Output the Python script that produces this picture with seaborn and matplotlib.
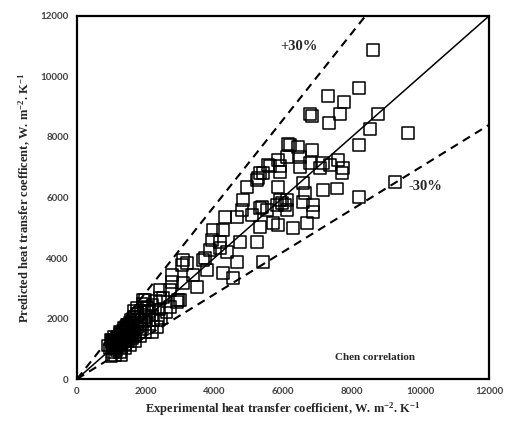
import numpy as np
import pandas as pd
import matplotlib
matplotlib.use("Agg")
import matplotlib.pyplot as plt
import seaborn as sns

# Experimental vs. predicted heat transfer coefficients (W m^-2 K^-1)
exp_h = [
    8620, 8210, 7310, 7780, 7660, 6790, 6850, 7340, 8770, 8540, 9640, 8210,
    6150, 6200, 6440, 6850, 6120, 6500, 7600, 6790, 5620, 5910, 5910, 6500,
    7170, 7370, 7750, 7720, 7080, 5330, 5240, 4950, 5850, 6580, 6640, 7170,
    7570, 9260, 8210, 4830, 5910, 6120, 4810, 6060, 6120, 6580, 6870, 6870,
    5330, 5530, 5100, 4660, 4310, 5710, 5850, 6290, 6700, 5330, 3960, 4250,
    3930, 4750, 5240, 4170, 3870, 4370, 4660, 5420, 3090, 3200, 3670, 3790,
    3380, 4250, 4540, 3500, 2420, 2710, 3000, 2710, 1920, 2040, 2210, 2330,
    2190, 2770, 3090, 2910, 2360, 3060, 3730, 2770, 2940, 1980, 4170, 2040,
    2420, 5270, 5420, 5560, 5850, 5390, 5830, 5970,
    1000, 1050, 950, 1100, 1000, 1150, 1200, 1100, 1250, 1300, 1200, 1350,
    1400, 1300, 1450, 1500, 1400, 1550, 1600, 1500, 1650, 1700, 1600, 1750,
    1800, 1700, 1850, 1900, 1800, 1950, 1050, 1150, 1250, 1350, 1450, 1550,
    1650, 1750, 1850, 1950, 900, 1000, 1100, 1250, 1400, 1550, 1700, 1850,
    2000, 2100, 2000, 2100, 2200, 2300, 2500, 2400, 2600, 1900, 1750, 1650,
    2200, 2450, 1300, 1150, 1350, 1600, 1450,
    1050, 1120, 1180, 1230, 1280, 1330, 1380, 1430, 1480, 1530, 1580, 1630,
    1680, 1080, 1160, 1240, 1320, 1420, 1520, 1620, 980, 1060, 1260, 1460,
]
pred_h = [
    10880, 9620, 9360, 9160, 8760, 8760, 8700, 8460, 8760, 8260, 8130, 7740,
    7770, 7740, 7670, 7570, 7340, 7340, 7240, 7140, 7040, 7040, 6840, 7010,
    7140, 7080, 6980, 6810, 6980, 6810, 6580, 6350, 6350, 6480, 6150, 6250,
    6300, 6510, 6020, 5920, 5920, 5920, 5590, 5750, 5590, 5850, 5750, 5520,
    5650, 5590, 5420, 5360, 5360, 5160, 5090, 4990, 5160, 5030, 4930, 4930,
    4600, 4530, 4530, 4530, 4270, 4200, 3870, 3870, 3930, 3840, 3930, 3600,
    3440, 3500, 3340, 3040, 2940, 2940, 2610, 2380, 2610, 2380, 1950, 1720,
    1550, 3440, 3170, 2550, 1950, 3770, 4000, 3210, 2610, 2610, 4330, 2350,
    2680, 6650, 6810, 7080, 7240, 5690, 5750, 5820,
    750, 900, 1000, 1050, 1150, 950, 1100, 1250, 1200, 1050, 1350, 1300,
    1150, 1450, 1400, 1250, 1550, 1500, 1350, 1650, 1600, 1450, 1750, 1700,
    1550, 1850, 1800, 1650, 1950, 1900, 1300, 1400, 1550, 1700, 1800, 1950,
    2050, 2150, 2250, 2350, 1100, 1250, 800, 900, 1000, 1100, 1250, 1400,
    1550, 1800, 2050, 2250, 2450, 2600, 2700, 2300, 2200, 2500, 2350, 2250,
    2100, 2000, 800, 1150, 1400, 1500, 1600,
    1200, 1300, 1380, 1450, 1520, 1600, 1660, 1720, 1780, 1850, 1900, 1980,
    2050, 1000, 1080, 1150, 1250, 1330, 1420, 1520, 1300, 1400, 1100, 1250,
]

# Reference lines: parity and the +/-30 % band
line_x = [0, 12000]
upper_factor = 1 / 0.7
lower_factor = 0.7
axis_ticks = [0, 2000, 4000, 6000, 8000, 10000, 12000]

df = pd.DataFrame({"exp": exp_h, "pred": pred_h})

sns.set_style("white")
plt.rcParams["mathtext.fontset"] = "custom"
plt.rcParams["mathtext.rm"] = "Liberation Serif:bold"
plt.rcParams["mathtext.bf"] = "Liberation Serif:bold"
plt.rcParams["mathtext.default"] = "bf"

fig = plt.figure(figsize=(5.08, 4.25), dpi=100)
ax = fig.add_axes([0.1516, 0.1082, 0.8110, 0.8542])

sns.scatterplot(data=df, x="exp", y="pred", marker="s", s=68,
                facecolors="none", edgecolors="black", linewidths=1.1,
                ax=ax, zorder=3)

lx = np.array(line_x, dtype=float)
ax.plot(lx, lx, color="black", lw=1.1, zorder=2)
ax.plot(lx, lx * upper_factor, color="black", lw=1.5, ls=(0, (4, 2.8)), zorder=2)
ax.plot(lx, lx * lower_factor, color="black", lw=1.5, ls=(0, (4, 2.8)), zorder=2)

ax.set_xlim(0, 12000)
ax.set_ylim(0, 12000)
ax.set_xticks(axis_ticks)
ax.set_yticks(axis_ticks)
ax.set_xticklabels([str(t) for t in axis_ticks])
ax.set_yticklabels([str(t) for t in axis_ticks])
ax.tick_params(axis="both", direction="out", length=3, width=0.8,
               color="#888888", labelsize=7, labelcolor="#404040", pad=3)
for lbl in ax.get_xticklabels() + ax.get_yticklabels():
    lbl.set_fontfamily("Lato")
    lbl.set_fontweight("bold")

for sp in ax.spines.values():
    sp.set_color("black")
    sp.set_linewidth(1.6)

serif = "Liberation Serif"
ax.set_xlabel(r"Experimental heat transfer coefficient, W. m$^{-2}$. K$^{-1}$",
              fontfamily=serif, fontweight="bold", fontsize=9, labelpad=3)
ax.set_ylabel(r"Predicted heat transfer coefficent, W. m$^{-2}$. K$^{-1}$",
              fontfamily=serif, fontweight="bold", fontsize=9, labelpad=5)

ax.text(6450, 11000, "+30%", fontfamily=serif, fontweight="bold",
        fontsize=10.5, ha="center", va="center")
ax.text(10150, 6350, "-30%", fontfamily=serif, fontweight="bold",
        fontsize=10.5, ha="center", va="center")
ax.text(8680, 700, "Chen correlation", fontfamily=serif, fontweight="bold",
        fontsize=8, ha="center", va="center")

fig.savefig("out.png", dpi=100)
